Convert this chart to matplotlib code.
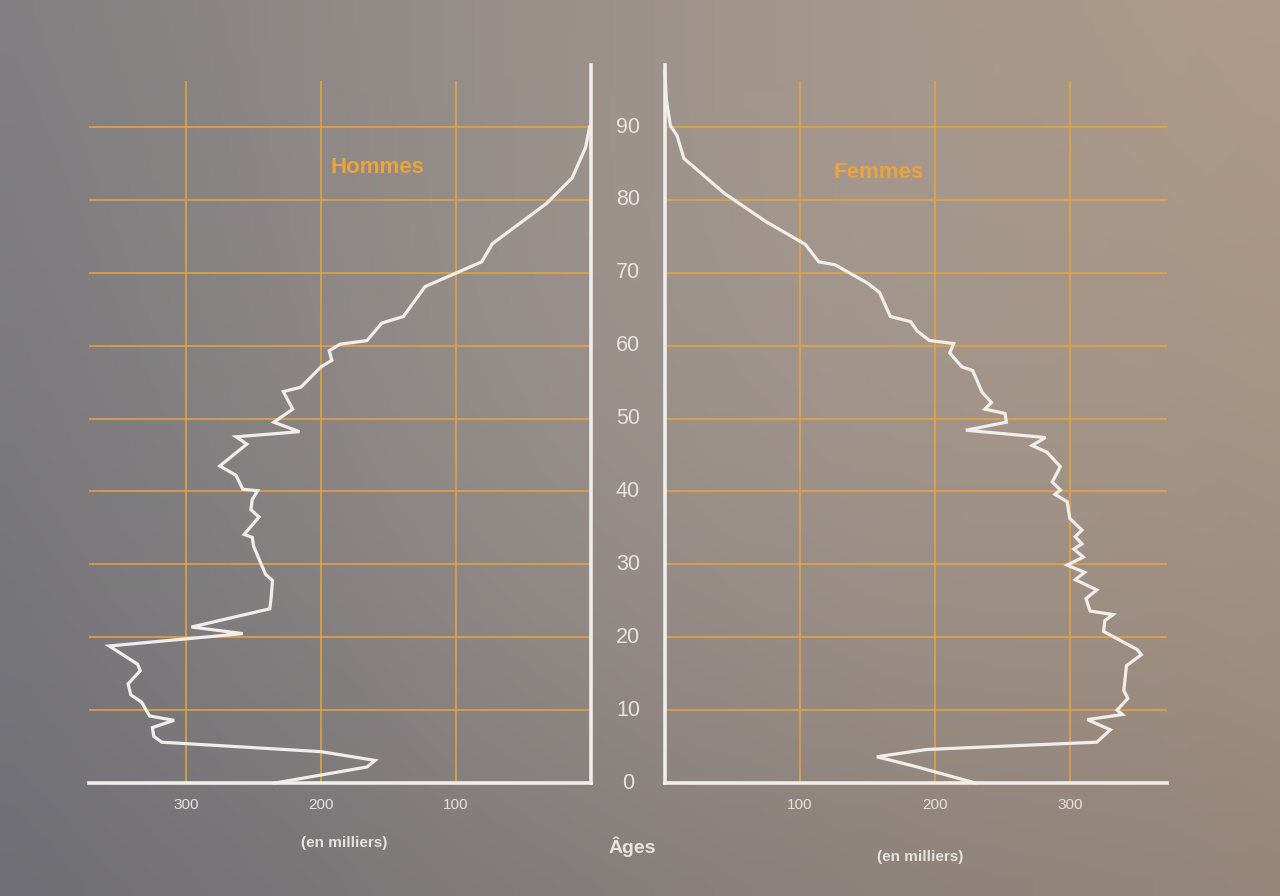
import numpy as np
import matplotlib
matplotlib.use("Agg")
import matplotlib.pyplot as plt
from matplotlib.transforms import blended_transform_factory

# Pyramide des âges (en milliers)
ages_hommes = [0, 2.2, 3.1, 4.3, 5.6, 6.4, 7.6, 8.6, 9.2, 9.8, 11.1, 12.1, 13.6, 15.4,
               16.3, 18.8, 20.5, 21.4, 23.9, 25.4, 27.8, 28.6, 30.3, 32.5, 33.7, 34.1,
               36.5, 37.5, 38.9, 40.1, 40.3, 42.2, 43.5, 46.5, 47.5, 48.2, 49.5, 51.3,
               53.7, 54.3, 57.1, 58.0, 59.3, 60.2, 60.7, 63.1, 64.0, 68.1, 71.5, 74.0,
               79.5, 83.0, 87.2, 90.0]
hommes = [234, 166, 160, 200, 318, 324, 325, 309, 327, 329, 333, 341, 343, 334,
          336, 357, 258, 296, 238, 237, 236, 241, 245, 250, 251, 257,
          246, 252, 251, 247, 258, 263, 275, 255, 263, 216, 235, 221,
          228, 215, 200, 192, 194, 186, 166, 155, 139, 123, 81, 73,
          33, 14, 4, 1]

ages_femmes = [0, 2.2, 3.6, 4.6, 5.6, 7.3, 8.7, 9.4, 10.0, 11.6, 12.7, 16.1, 17.6,
               18.3, 20.8, 22.3, 23.1, 23.6, 25.3, 26.5, 27.9, 28.9, 29.9, 31.0, 32.1,
               32.8, 33.8, 34.7, 36.3, 38.6, 39.6, 40.2, 41.3, 43.4, 45.4, 46.3, 47.4,
               48.4, 49.5, 50.7, 51.3, 52.2, 53.6, 56.6, 57.1, 59.0, 60.3, 60.7, 62.0,
               63.3, 64.0, 67.3, 68.6, 71.1, 71.5, 73.9, 77.0, 80.9, 85.7, 88.8, 90.2,
               93.8, 97.5]
femmes = [230, 187, 157, 194, 320, 330, 313, 339, 335, 343, 340, 342, 353,
          350, 325, 326, 332, 315, 312, 320, 304, 311, 298, 310, 303,
          309, 304, 309, 300, 298, 289, 293, 287, 293, 283, 272, 282,
          223, 253, 252, 237, 242, 235, 228, 220, 211, 214, 196, 187,
          182, 167, 159, 150, 126, 114, 104, 75, 44, 14, 9, 4,
          1, 0]

graduations = [100, 200, 300]
ages_ticks = [0, 10, 20, 30, 40, 50, 60, 70, 80, 90]

orange = "#e9a43c"
blanc = "#f1edea"
gris_txt = "#e6e2de"
font = "Liberation Sans"

fig = plt.figure(figsize=(12.8, 8.96), dpi=100)

# fond en dégradé (photo)
bg = fig.add_axes([0, 0, 1, 1], zorder=-10)
bg.axis("off")
h, w = 90, 128
yy, xx = np.mgrid[0:1:h * 1j, 0:1:w * 1j]
tl = np.array([128, 126, 128]); tr = np.array([172, 152, 134])
bl = np.array([110, 110, 116]); br = np.array([148, 132, 120])
img = ((1 - yy)[..., None] * ((1 - xx)[..., None] * tl + xx[..., None] * tr)
       + yy[..., None] * ((1 - xx)[..., None] * bl + xx[..., None] * br))
glow = np.exp(-(((xx - 0.55) / 0.45) ** 2 + ((yy - 0.45) / 0.6) ** 2))
img = img + 14 * glow[..., None]
bg.imshow(np.clip(img, 0, 255).astype(np.uint8), aspect="auto",
          extent=[0, 1, 0, 1], interpolation="bicubic")

axL = fig.add_axes([0.0695, 0.1261, 0.3922, 0.8013])
axR = fig.add_axes([0.5195, 0.1261, 0.3922, 0.8013])

for ax, vals, ages in [(axL, hommes, ages_hommes), (axR, femmes, ages_femmes)]:
    ax.set_facecolor("none")
    ax.set_ylim(0, 98.5)
    for s in ax.spines.values():
        s.set_visible(False)
    for a in ages_ticks[1:]:
        ax.axhline(a, color=orange, lw=1.1, zorder=1)
    ax.vlines(graduations, 0, 96.3, color=orange, lw=1.1, zorder=1)
    ax.axvline(0, color=blanc, lw=2.6, zorder=3, clip_on=False)
    ax.axhline(0, color=blanc, lw=2.6, zorder=3, clip_on=False)
    ax.plot(vals, ages, color=blanc, lw=2.3, zorder=4, clip_on=False,
            solid_joinstyle="miter")
    ax.set_yticks([])
    ax.set_xticks(graduations)
    ax.set_xticklabels([str(g) for g in graduations], fontsize=11,
                       color=gris_txt, family=font)
    ax.tick_params(axis="x", length=0, pad=11)

axL.set_xlim(372, 0)
axR.set_xlim(0, 372)

axL.text(158, 84.4, "Hommes", color=orange, fontsize=16, fontweight="bold",
         family=font, ha="center", va="center")
axR.text(158, 83.8, "Femmes", color=orange, fontsize=16, fontweight="bold",
         family=font, ha="center", va="center")

trans = blended_transform_factory(fig.transFigure, axL.transData)
for a in ages_ticks:
    axL.text(0.4906, a, str(a), transform=trans, ha="center", va="center",
             fontsize=15.5, color=gris_txt, family=font)

fig.text(0.494, 0.0547, "Âges", ha="center", va="center", fontsize=14,
         fontweight="bold", color=gris_txt, family=font)
fig.text(0.269, 0.059, "(en milliers)", ha="center", va="center", fontsize=11,
         fontweight="bold", color=gris_txt, family=font)
fig.text(0.719, 0.0435, "(en milliers)", ha="center", va="center", fontsize=11,
         fontweight="bold", color=gris_txt, family=font)

fig.savefig("out.png", dpi=100)
